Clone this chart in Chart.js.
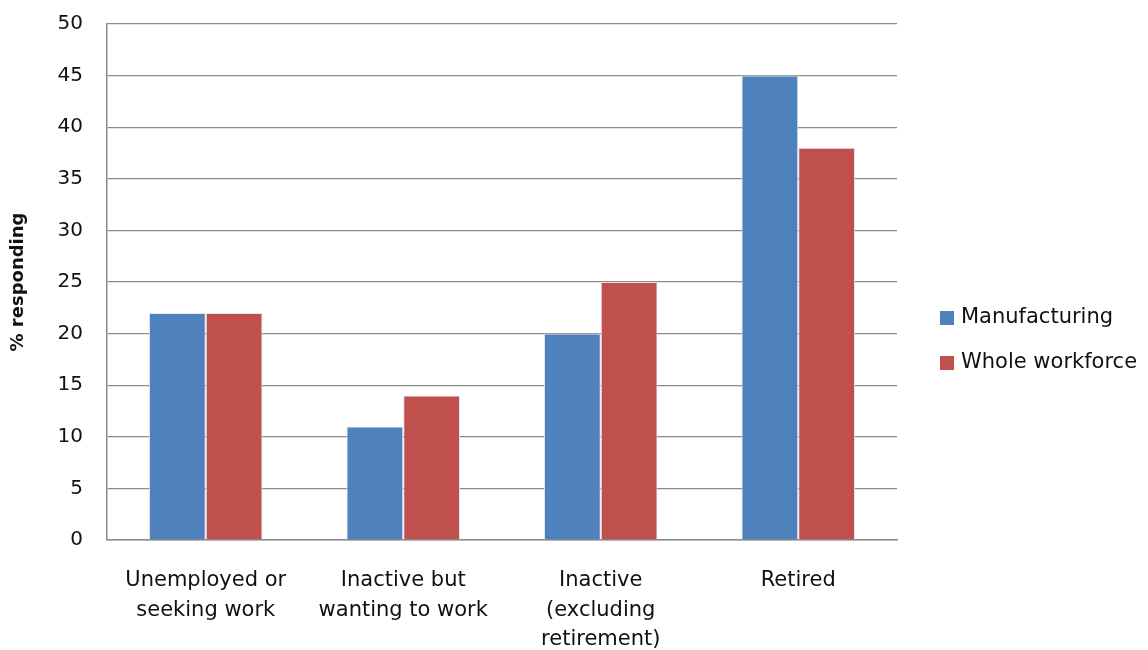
<!DOCTYPE html>
<html>
<head>
<meta charset="utf-8">
<script src="https://cdn.jsdelivr.net/npm/chart.js@4.4.1/dist/chart.umd.min.js"></script>
<style>
  html, body { margin: 0; padding: 0; background: #fff; overflow: hidden; }
  #wrap { width: 1148px; height: 650px; position: relative; }
</style>
</head>
<body>
<div id="wrap"><canvas id="c" width="1148" height="650"></canvas></div>
<script>
// Categories (multi-line labels) and series values, % responding
const categories = [
  ["Unemployed or", "seeking work"],
  ["Inactive but", "wanting to work"],
  ["Inactive", "(excluding", "retirement)"],
  ["Retired"]
];
const manufacturing = [22, 11, 20, 45];
const wholeWorkforce = [22, 14, 25, 38];
const seriesNames = ["Manufacturing", "Whole workforce"];
const seriesColors = ["#4F81BD", "#C0504D"];
const yTitle = "% responding";

const FONT = "'DejaVu Sans', 'Open Sans', sans-serif";
const GRID = "#8c8c8c";

// Legend drawn at the right of the plot, built from the datasets
const sideLegend = {
  id: 'sideLegend',
  afterDraw(chart) {
    const ctx = chart.ctx;
    const area = chart.chartArea;
    const x0 = area.right + 43;
    const y0 = 318;
    const gap = 45;
    ctx.save();
    ctx.font = "21px " + FONT;
    ctx.textBaseline = 'middle';
    chart.data.datasets.forEach((ds, i) => {
      const y = y0 + i * gap;
      ctx.fillStyle = ds.backgroundColor;
      ctx.fillRect(x0, y - 7, 14, 14);
      ctx.fillStyle = '#111';
      ctx.fillText(ds.label, x0 + 21, y);
    });
    ctx.restore();
  }
};

new Chart(document.getElementById('c'), {
  type: 'bar',
  data: {
    labels: categories,
    datasets: [
      { label: seriesNames[0], data: manufacturing, backgroundColor: seriesColors[0],
        borderColor: 'rgba(225,230,240,0.9)', borderWidth: 1 },
      { label: seriesNames[1], data: wholeWorkforce, backgroundColor: seriesColors[1],
        borderColor: 'rgba(225,230,240,0.9)', borderWidth: 1 }
    ]
  },
  options: {
    responsive: false,
    animation: false,
    devicePixelRatio: 1,
    layout: { padding: { top: 24, right: 251, left: 0, bottom: 0 } },
    datasets: { bar: { barPercentage: 1.0, categoryPercentage: 0.575 } },
    plugins: {
      legend: { display: false },
      tooltip: { enabled: false }
    },
    scales: {
      x: {
        grid: { display: false, drawTicks: false },
        border: { color: GRID, width: 1.5 },
        ticks: {
          color: '#111',
          font: { family: FONT, size: 21, lineHeight: 1.4 },
          padding: 26,
          maxRotation: 0,
          autoSkip: false
        },
        afterFit(scale) { scale.height = 110; }
      },
      y: {
        min: 0, max: 50,
        ticks: {
          stepSize: 5,
          color: '#111',
          font: { family: FONT, size: 20 },
          padding: 24
        },
        grid: { color: GRID, lineWidth: 1.2, drawTicks: false },
        border: { color: GRID, width: 1.5 },
        title: {
          display: true,
          text: yTitle,
          color: '#111',
          font: { family: FONT, size: 18, weight: 'bold' },
          padding: { top: 8, bottom: 0 }
        },
        afterFit(scale) { scale.width = 107; scale.paddingTop = 0; scale.paddingBottom = 0; }
      }
    }
  },
  plugins: [sideLegend]
});
</script>
</body>
</html>
